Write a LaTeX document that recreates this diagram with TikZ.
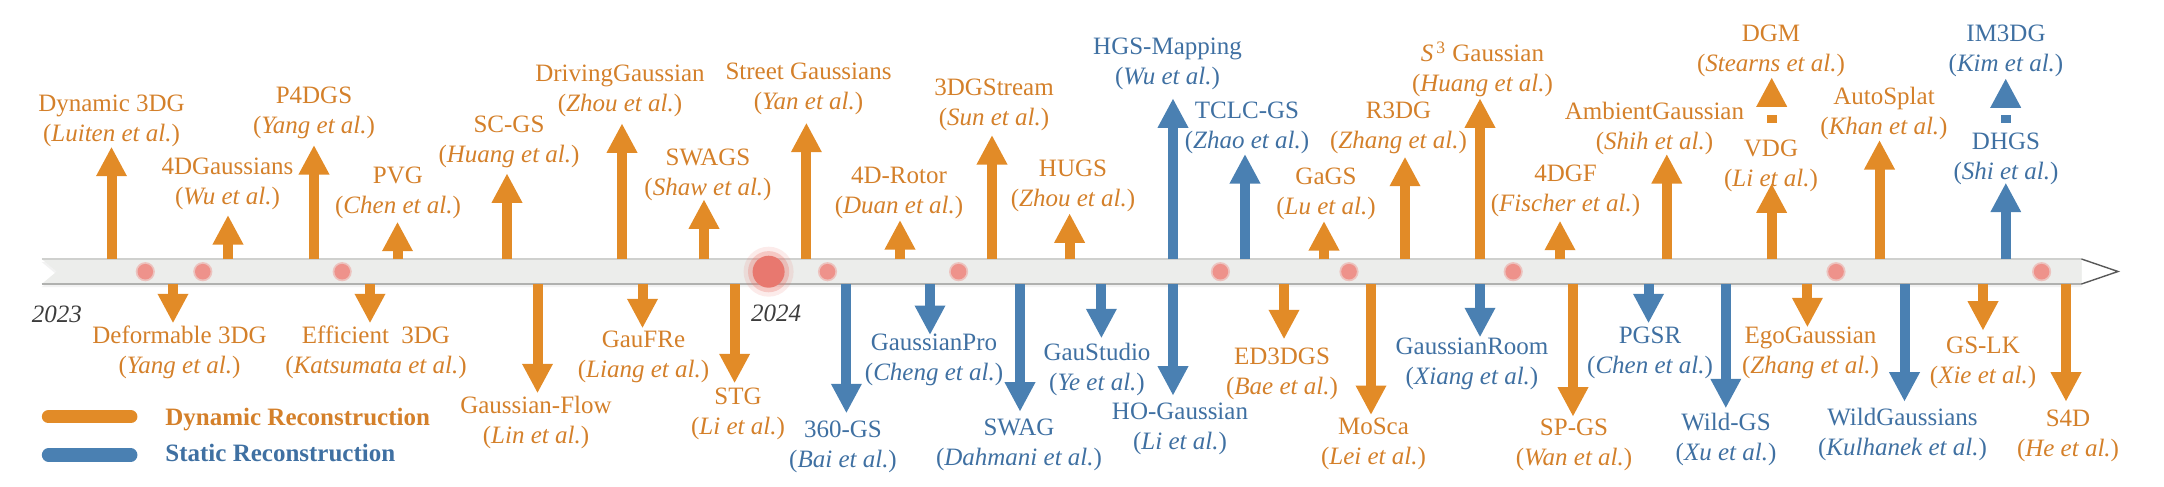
\documentclass[tikz,border=0pt]{standalone}
\usepackage{fontspec}
\setmainfont{Liberation Serif}
\newfontfamily\tlserif{Liberation Serif}
\usetikzlibrary{arrows.meta}
\definecolor{dynA}{HTML}{E28B27}
\definecolor{dynT}{HTML}{D4802A}
\definecolor{stA}{HTML}{4A80B2}
\definecolor{stT}{HTML}{3F70A2}
\definecolor{barfill}{HTML}{ECEDEB}
\definecolor{baredge}{HTML}{CFD0CE}
\definecolor{dotc}{HTML}{EE928B}
\definecolor{bigdot}{HTML}{E8786F}
\definecolor{yearc}{HTML}{3C3C3C}
\begin{document}
\begin{tikzpicture}[x=0.5pt,y=-0.5pt,
  lab/.style={align=center,font=\tlserif\fontsize{12.5}{15}\selectfont,inner sep=0pt},
  dlab/.style={lab,text=dynT},
  slab/.style={lab,text=stT},
  arr/.style={line width=5pt,-{Triangle[width=14.35pt,length=14.75pt]}},
  darr/.style={arr,draw=dynA},
  sarr/.style={arr,draw=stA},
  stub/.style={arr,dash pattern=on 3.85pt off 30pt},
  year/.style={lab,text=yearc,font=\tlserif\fontsize{12.5}{15}\selectfont\itshape},
  legbar/.style={line width=6.65pt,line cap=round},
  legtxt/.style={anchor=base west,inner sep=0pt,font=\tlserif\fontsize{12.5}{15}\selectfont\bfseries}]
\useasboundingbox (0,0) rectangle (2164,487);
% timeline bar
\fill[black,opacity=0.05] (41.7,262) -- (2081.5,262) -- (2081.5,287) -- (41.7,287) -- (56.7,274.5) -- cycle;
\fill[barfill] (41.7,259) -- (2081.5,259) -- (2081.5,284) -- (41.7,284) -- (56.7,271.5) -- cycle;
\draw[baredge,line width=0.7pt] (41.7,259) -- (2081.5,259);
\draw[baredge!85!black,line width=0.7pt] (41.7,284) -- (2081.5,284);
\draw[black!65,line width=0.7pt] (2081.5,259) -- (2118,271.5) -- (2081.5,284);
% dots
\foreach \x in {145.3,202.8,342.2,827.5,958.6,1220.4,1349,1513.2,1836,2041.6}{
  \fill[dotc,opacity=0.45] (\x,271.7) circle[radius=4.8pt];
  \fill[dotc] (\x,271.7) circle[radius=3.9pt];
}
\fill[bigdot,opacity=0.15] (768.6,271.7) circle[radius=12.5pt];
\fill[bigdot,opacity=0.3] (768.6,271.7) circle[radius=10.3pt];
\fill[bigdot] (768.6,271.7) circle[radius=8pt];
% years
\node[year] (y23) at (57,314) {2023};
\node[year] (y24) at (776,313.5) {2024};
% labels above
\node[dlab] (l1) at (111.5,120.5) {Dynamic 3DG\\(\textit{Luiten et al.})};
\node[dlab] (l2) at (227.5,184.3) {4DGaussians\\(\textit{Wu et al.})};
\node[dlab] (l3) at (314,113) {P4DGS\\(\textit{Yang et al.})};
\node[dlab] (l4) at (398,193) {PVG\\(\textit{Chen et al.})};
\node[dlab] (l5) at (509,142) {SC-GS\\(\textit{Huang et al.})};
\node[dlab] (l6) at (620,90.5) {DrivingGaussian\\(\textit{Zhou et al.})};
\node[dlab] (l7) at (708,174.7) {SWAGS\\(\textit{Shaw et al.})};
\node[dlab] (l8) at (808.5,88.8) {Street Gaussians\\(\textit{Yan et al.})};
\node[dlab] (l9) at (899,193.3) {4D-Rotor\\(\textit{Duan et al.})};
\node[dlab] (l10) at (994,105.2) {3DGStream\\(\textit{Sun et al.})};
\node[dlab] (l11) at (1073,186) {HUGS\\(\textit{Zhou et al.})};
\node[slab] (l12) at (1167.5,63.5) {HGS-Mapping\\(\textit{Wu et al.})};
\node[slab] (l13) at (1247,128.2) {TCLC-GS\\(\textit{Zhao et al.})};
\node[dlab] (l14) at (1326,194.3) {GaGS\\(\textit{Lu et al.})};
\node[dlab] (l15) at (1398.5,127.7) {R3DG\\(\textit{Zhang et al.})};
\node[dlab] (l16) at (1482.5,69.3) {\textit{S}\textsuperscript{\,3} Gaussian\\(\textit{Huang et al.})};
\node[dlab] (l17) at (1565.5,191) {4DGF\\(\textit{Fischer et al.})};
\node[dlab] (l18) at (1654.5,128.7) {AmbientGaussian\\(\textit{Shih et al.})};
\node[dlab] (l19) at (1771,165.5) {VDG\\(\textit{Li et al.})};
\node[dlab] (l20) at (1771,51) {DGM\\(\textit{Stearns et al.})};
\node[dlab] (l21) at (1884,113) {AutoSplat\\(\textit{Khan et al.})};
\node[slab] (l22) at (2006,158.5) {DHGS\\(\textit{Shi et al.})};
\node[slab] (l23) at (2006,51) {IM3DG\\(\textit{Kim et al.})};
% labels below
\node[dlab] (la) at (179.5,352.3) {Deformable 3DG\\(\textit{Yang et al.})};
\node[dlab] (lb) at (376,352.3) {Efficient\ \ 3DG\\(\textit{Katsumata et al.})};
\node[dlab] (lc) at (536,422.7) {Gaussian-Flow\\(\textit{Lin et al.})};
\node[dlab] (ld) at (643.5,356.8) {GauFRe\\(\textit{Liang et al.})};
\node[dlab] (le) at (738,414.3) {STG\\(\textit{Li et al.})};
\node[slab] (lf) at (843,446.8) {360-GS\\(\textit{Bai et al.})};
\node[slab] (lg) at (934,359.7) {GaussianPro\\(\textit{Cheng et al.})};
\node[slab] (lh) at (1019,445.3) {SWAG\\(\textit{Dahmani et al.})};
\node[slab] (li) at (1097,369) {GauStudio\\(\textit{Ye et al.})};
\node[slab] (lj) at (1180,429.3) {HO-Gaussian\\(\textit{Li et al.})};
\node[dlab] (lk) at (1282,374.3) {ED3DGS\\(\textit{Bae et al.})};
\node[dlab] (ll) at (1373.5,443.8) {MoSca\\(\textit{Lei et al.})};
\node[slab] (lm) at (1472,363.8) {GaussianRoom\\(\textit{Xiang et al.})};
\node[dlab] (ln) at (1574,445.3) {SP-GS\\(\textit{Wan et al.})};
\node[slab] (lo) at (1650,352.7) {PGSR\\(\textit{Chen et al.})};
\node[slab] (lp) at (1726,439.3) {Wild-GS\\(\textit{Xu et al.})};
\node[dlab] (lq) at (1810.5,353.3) {EgoGaussian\\(\textit{Zhang et al.})};
\node[slab] (lr) at (1902.5,434.3) {WildGaussians\\(\textit{Kulhanek et al.})};
\node[dlab] (ls) at (1983,362.7) {GS-LK\\(\textit{Xie et al.})};
\node[dlab] (lt) at (2068,435.7) {S4D\\(\textit{He et al.})};
% arrows up
\draw[darr] (111.5,259) -- (111.5,146.7);
\draw[darr] (228,259) -- (228,215);
\draw[darr] (314,259) -- (314,145);
\draw[darr] (397.5,259) -- (397.5,221.7);
\draw[darr] (507,259) -- (507,173.3);
\draw[darr] (622,259) -- (622,123.3);
\draw[darr] (704,259) -- (704,199.3);
\draw[darr] (806.4,259) -- (806.4,122.7);
\draw[darr] (900,259) -- (900,220);
\draw[darr] (992,259) -- (992,135);
\draw[darr] (1069.6,259) -- (1069.6,213.3);
\draw[sarr] (1173,259) -- (1173,98.3);
\draw[sarr] (1245,259) -- (1245,154);
\draw[darr] (1324,259) -- (1324,221);
\draw[darr] (1405,259) -- (1405,156.7);
\draw[darr] (1480,259) -- (1480,98.3);
\draw[darr] (1560,259) -- (1560,220.7);
\draw[darr] (1666.8,259) -- (1666.8,154);
\draw[darr] (1771.6,259) -- (1771.6,183.3);
\draw[darr,stub] (1771.7,122.7) -- (1771.7,77.3);
\draw[darr] (1879.5,259) -- (1879.5,140);
\draw[sarr] (2005.8,259) -- (2005.8,182.7);
\draw[sarr,stub] (2005.7,122.7) -- (2005.7,78.3);
% arrows down
\draw[darr] (173,284) -- (173,323.3);
\draw[darr] (370,284) -- (370,323.3);
\draw[darr] (537.5,284) -- (537.5,393.3);
\draw[darr] (642.5,284) -- (642.5,328.3);
\draw[darr] (734.6,284) -- (734.6,383.3);
\draw[sarr] (846.4,284) -- (846.4,413.3);
\draw[sarr] (930,284) -- (930,335);
\draw[sarr] (1020,284) -- (1020,411.7);
\draw[sarr] (1101.4,284) -- (1101.4,338.3);
\draw[sarr] (1173,284) -- (1173,395.7);
\draw[darr] (1284,284) -- (1284,339.3);
\draw[darr] (1371,284) -- (1371,415);
\draw[sarr] (1480,284) -- (1480,337.3);
\draw[darr] (1573,284) -- (1573,416.7);
\draw[sarr] (1648.5,284) -- (1648.5,323.3);
\draw[sarr] (1725.8,284) -- (1725.8,408.3);
\draw[darr] (1807.4,284) -- (1807.4,327.3);
\draw[sarr] (1904.5,284) -- (1904.5,401.7);
\draw[darr] (1983,284) -- (1983,330.7);
\draw[darr] (2066,284) -- (2066,401.7);
% legend
\draw[legbar,dynA] (48.5,416.7) -- (130.8,416.7);
\draw[legbar,stA] (48.5,455) -- (130.8,455);
\node[legtxt,text=dynT] (legd) at (165,425.6) {Dynamic Reconstruction};
\node[legtxt,text=stT] (legs) at (165,461.6) {Static Reconstruction};
\end{tikzpicture}
\end{document}
